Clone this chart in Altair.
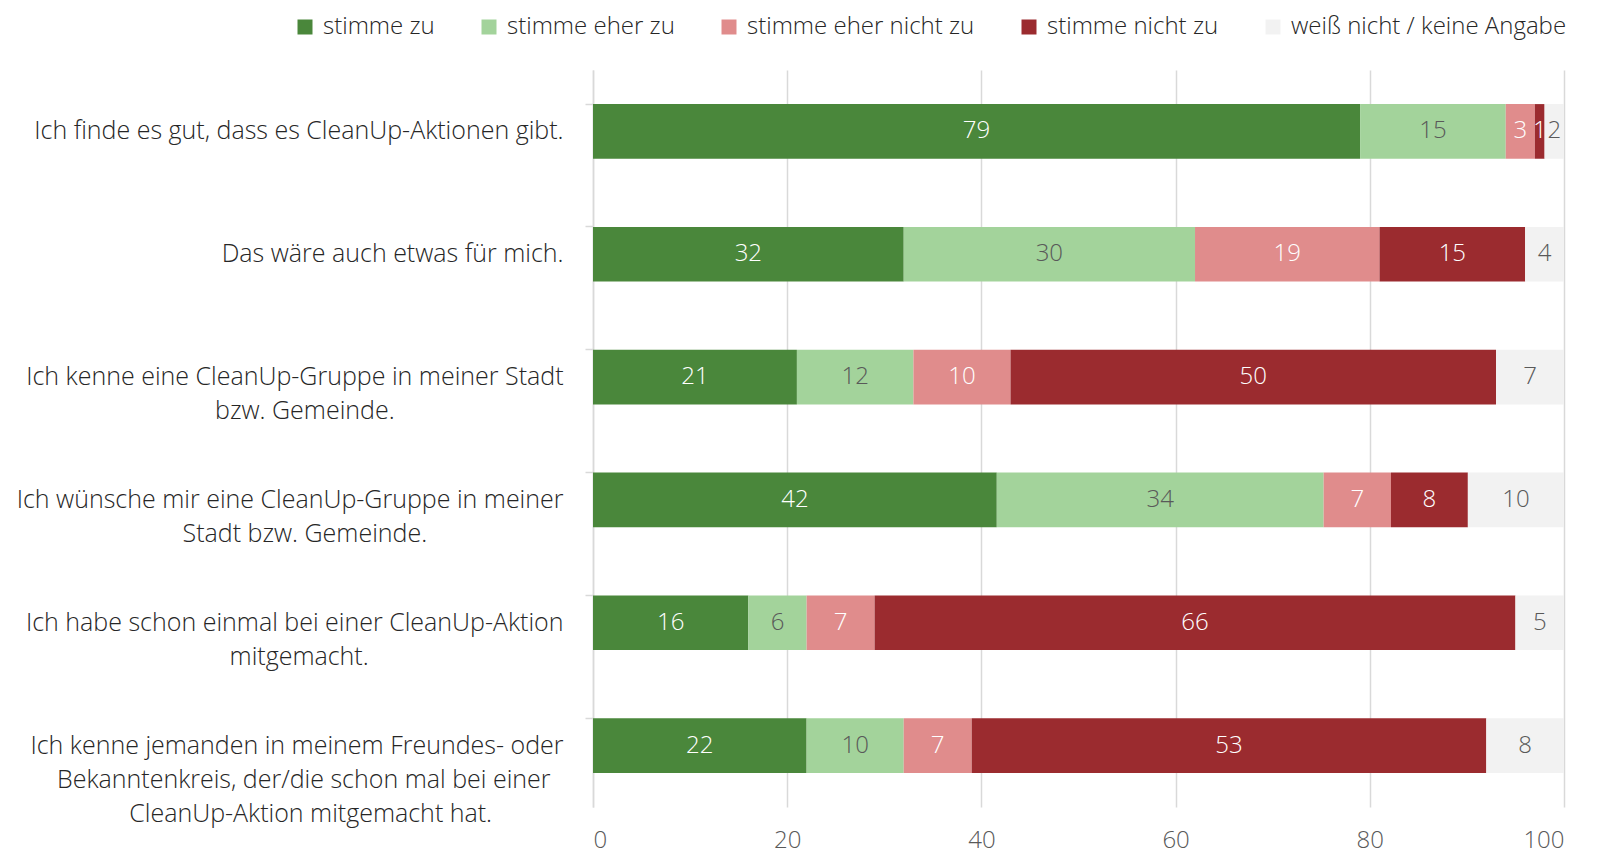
import altair as alt
import pandas as pd

question_lines = [
    ["Ich finde es gut, dass es CleanUp-Aktionen gibt."],
    ["Das wäre auch etwas für mich."],
    ["Ich kenne eine CleanUp-Gruppe in meiner Stadt", "bzw. Gemeinde."],
    ["Ich wünsche mir eine CleanUp-Gruppe in meiner", "Stadt bzw. Gemeinde."],
    ["Ich habe schon einmal bei einer CleanUp-Aktion", "mitgemacht."],
    ["Ich kenne jemanden in meinem Freundes- oder", "Bekanntenkreis, der/die schon mal bei einer",
     "CleanUp-Aktion mitgemacht hat."],
]
categories = ["stimme zu", "stimme eher zu", "stimme eher nicht zu", "stimme nicht zu", "weiß nicht / keine Angabe"]
colors = ["#4A873B", "#A3D39B", "#E08C8C", "#9B2B2F", "#F2F2F2"]
text_colors = ["#FFFFFF", "#595959", "#FFFFFF", "#FFFFFF", "#595959"]

v_zu = [79, 32, 21, 42, 16, 22]
v_eher_zu = [15, 30, 12, 34, 6, 10]
v_eher_nicht = [3, 19, 10, 7, 7, 7]
v_nicht = [1, 15, 50, 8, 66, 53]
v_wn = [2, 4, 7, 10, 5, 8]
series = [v_zu, v_eher_zu, v_eher_nicht, v_nicht, v_wn]

# multi-line labels: each line centred within its block (block right-aligned),
# emulated by padding shorter lines with non-breaking spaces (closed by a
# zero-width space so that the padding is not trimmed away)
NBSP = "\u00a0"
ZWSP = "\u200b"
questions = []
for lines in question_lines:
    longest = max(len(l) for l in lines)
    padded = []
    for l in lines:
        n = round((longest - len(l)) * 0.85)
        padded.append(l + (NBSP * n + ZWSP if n > 0 else ""))
    questions.append("|".join(padded))
# second line of the last label is slightly narrower than the first in the reference
questions[5] = questions[5].replace("bei einer|", "bei einer" + NBSP * 2 + ZWSP + "|")

rows = []
for ci, (cat, vals) in enumerate(zip(categories, series)):
    for qi, q in enumerate(questions):
        rows.append({"question": q, "category": cat, "order": ci, "value": vals[qi],
                     "tcolor": text_colors[ci]})
df = pd.DataFrame(rows)

base = alt.Chart(df).transform_joinaggregate(
    total="sum(value)", groupby=["question"]
).transform_calculate(
    pct="datum.value / datum.total * 100"
).transform_window(
    x_end="sum(pct)", sort=[alt.SortField("order")], groupby=["question"],
    frame=[None, 0]
).transform_calculate(
    x_start="datum.x_end - datum.pct",
    x_mid="datum.x_end - datum.pct / 2"
)

FS = 24

y_enc = alt.Y(
    "question:N", sort=questions, title=None,
    scale=alt.Scale(paddingInner=0.555, paddingOuter=0.2775),
    axis=alt.Axis(
        labelExpr="split(datum.label, '|')",
        labelFontSize=25, labelColor="#262626", labelPadding=22,
        labelLineHeight=34, labelLimit=700, labelFontWeight=300,
        domainColor="#D9D9D9", tickColor="#D9D9D9", tickSize=8,
        bandPosition=0, domainWidth=1.5, tickWidth=1.5,
    ),
)

bars = base.mark_bar().encode(
    x=alt.X("x_start:Q", title=None,
            scale=alt.Scale(domain=[0, 100], nice=False),
            axis=alt.Axis(values=[0, 20, 40, 60, 80, 100], grid=True,
                          gridColor="#D9D9D9", gridWidth=1.5, domain=False, ticks=False,
                          labelColor="#595959", labelFontSize=FS, labelFontWeight=300,
                          labelPadding=21)),
    x2="x_end:Q",
    y=y_enc,
    color=alt.Color("category:N", sort=categories,
                    scale=alt.Scale(domain=categories, range=colors),
                    legend=alt.Legend(
                        title=None, orient="none", direction="horizontal", columns=5,
                        legendX=-300, legendY=-55,
                        symbolType="square", symbolSize=225, symbolStrokeWidth=0,
                        labelFontSize=FS, labelColor="#262626", labelFontWeight=300,
                        labelLimit=500, columnPadding=42, labelOffset=6)),
)

labels = base.mark_text(fontSize=FS, fontWeight=300).encode(
    x="x_mid:Q",
    y=alt.Y("question:N", sort=questions),
    text="value:Q",
    color=alt.Color("tcolor:N", scale=None),
)

chart = alt.layer(bars, labels).properties(
    width=971, height=737,
    padding={"left": 585, "top": 62, "right": 30, "bottom": 48},
    autosize=alt.AutoSizeParams(type="none"),
).configure(
    font="Open Sans"
).configure_view(stroke=None)

chart.save("out.html", embed_options={"renderer": "svg", "actions": False})
